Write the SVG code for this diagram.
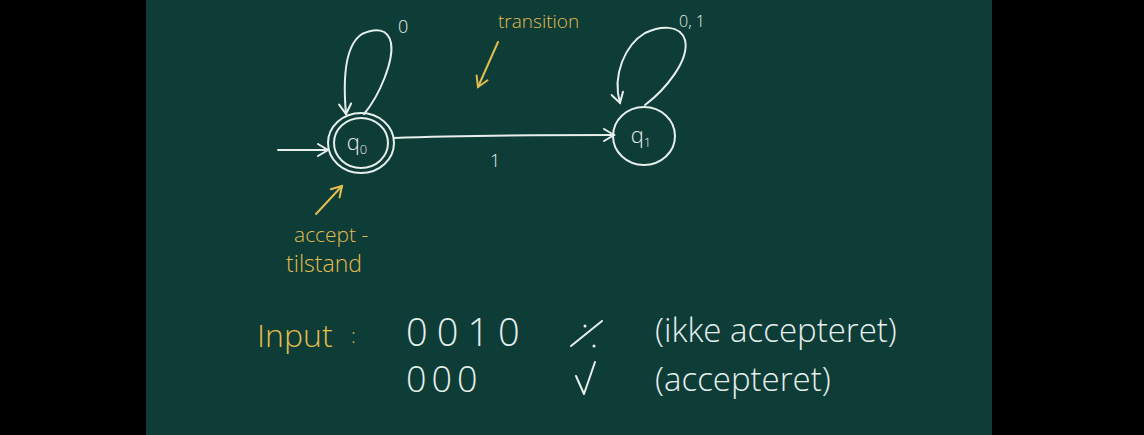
<svg xmlns="http://www.w3.org/2000/svg" width="1144" height="435" viewBox="0 0 1144 435">
<defs>
<style>
.w{fill:none;stroke:#e6efec;stroke-width:2;stroke-linecap:round;stroke-linejoin:round}
.y{fill:none;stroke:#e3bd4e;stroke-width:2;stroke-linecap:round;stroke-linejoin:round}
.tw{fill:#e6efec;font-family:"Open Sans","Liberation Sans",sans-serif;font-weight:300}
.ty{fill:#e3bd4e;font-family:"Open Sans","Liberation Sans",sans-serif;font-weight:300}
</style>
<marker id="aw" markerWidth="14" markerHeight="14" refX="12" refY="7" orient="auto" markerUnits="userSpaceOnUse">
<path d="M2,1 L12,7 L2,13" fill="none" stroke="#e6efec" stroke-width="2" stroke-linecap="round"/>
</marker>
<marker id="ay" markerWidth="14" markerHeight="14" refX="12" refY="7" orient="auto" markerUnits="userSpaceOnUse">
<path d="M2,1 L12,7 L2,13" fill="none" stroke="#e3bd4e" stroke-width="2" stroke-linecap="round"/>
</marker>
</defs>
<rect x="0" y="0" width="1144" height="435" fill="#000"/>
<rect x="146" y="0" width="846" height="435" fill="#0e3c37"/>

<g id="connectors">
<path class="w" d="M278,150 L328,150" marker-end="url(#aw)"/>
<path class="w" d="M394,138 C470,135 560,135 614,135" marker-end="url(#aw)"/>
<path class="w" d="M364,114 C380,95 394,60 391,43 C388,28 375,28 362,34 C345,45 343,80 346,114" marker-end="url(#aw)"/>
<path class="w" d="M645,105 C665,90 690,60 685,40 C680,24 660,26 645,33 C625,45 612,75 620,103" marker-end="url(#aw)"/>
<text class="tw" x="398" y="33" font-size="18">0</text>
<text class="tw" x="679" y="27" font-size="16">0, 1</text>
<text class="tw" x="490" y="167" font-size="18">1</text>
</g>

<g id="q0">
<ellipse class="w" cx="361" cy="143" rx="33" ry="30"/>
<ellipse class="w" cx="361" cy="143" rx="27" ry="25"/>
<text class="tw" x="357" y="150" font-size="22" text-anchor="middle">q<tspan font-size="13" dy="4">0</tspan></text>
</g>

<g id="q1">
<ellipse class="w" cx="644" cy="136" rx="31" ry="29"/>
<text class="tw" x="641" y="143" font-size="22" text-anchor="middle">q<tspan font-size="13" dy="4">1</tspan></text>
</g>

<g id="annotation-transition">
<text class="ty" x="498" y="28" font-size="19">transition</text>
<path class="y" d="M498,42 L478,87" marker-end="url(#ay)"/>
</g>

<g id="annotation-accept">
<path class="y" d="M316,214 L342,186" marker-end="url(#ay)"/>
<text class="ty" x="294" y="242" font-size="21">accept -</text>
<text class="ty" x="286" y="272" font-size="23">tilstand</text>
</g>

<g id="input">
<text class="ty" x="257" y="347" font-size="32">Input</text>
<text class="ty" x="351" y="343" font-size="20">:</text>
<text class="tw" x="406" y="346" font-size="38" letter-spacing="9">0010</text>
<path class="w" d="M571,346 L602,321"/>
<circle cx="585" cy="326" r="1.5" fill="#e6efec"/>
<circle cx="594" cy="346" r="1.5" fill="#e6efec"/>
<text class="tw" x="655" y="342" font-size="33">(ikke accepteret)</text>
<text class="tw" x="406" y="392" font-size="36" letter-spacing="5">000</text>
<path class="w" d="M576,376 L584,394 L595,362"/>
<text class="tw" x="655" y="391" font-size="33">(accepteret)</text>
</g>
</svg>
